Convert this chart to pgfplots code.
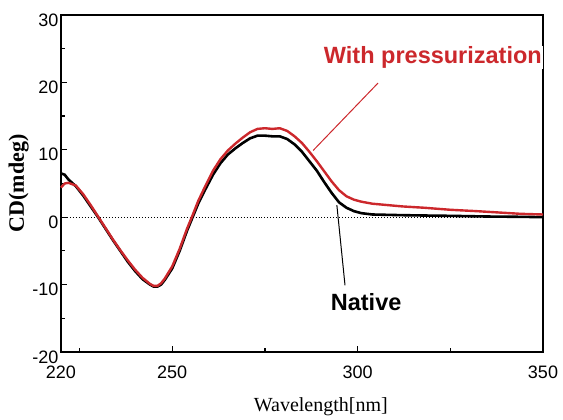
\documentclass[border=0pt]{standalone}
\usepackage{fontspec}
\setmainfont{Liberation Sans}
\newfontfamily\serif{Liberation Serif}
\usepackage{pgfplots}
\pgfplotsset{compat=1.18}
\definecolor{cdred}{RGB}{204,40,44}

\pgfplotstableread{
x y
220 6.5
221 6.3
222 5.6
224 4.6
226 3.2
228 1.6
230 0.0
232 -1.7
234 -3.4
236 -5.0
238 -6.6
240 -8.0
242 -9.2
244 -10.0
245 -10.3
246 -10.3
247 -10.0
248 -9.3
250 -7.6
252 -5.0
254 -2.0
255.5 0.0
257 2.0
259 4.2
261 6.3
263 8.0
265 9.3
267 10.2
269 11.0
271 11.7
273 12.1
275 12.1
277 12.0
279 12.0
281 11.6
283 10.8
285 9.7
287 8.3
289 6.9
291 5.2
293 3.6
295 2.2
297 1.4
299 0.9
301 0.6
304 0.4
308 0.35
312 0.3
318 0.25
325 0.2
335 0.1
345 0.05
350 0.0
}\native

\pgfplotstableread{
x y
220 4.4
221 5.0
222 5.1
224 4.7
226 3.4
228 1.8
230 0.1
232 -1.6
234 -3.3
236 -4.9
238 -6.4
240 -7.8
242 -9.0
244 -9.9
245 -10.2
246 -10.2
247 -9.8
248 -9.1
250 -7.3
252 -4.7
254 -1.7
255.5 0.3
257 2.4
259 4.7
261 6.9
263 8.6
265 9.9
267 10.9
269 11.8
271 12.6
273 13.1
275 13.2
277 13.1
279 13.2
281 12.8
283 12.0
285 11.0
287 9.7
289 8.3
291 6.8
293 5.3
295 4.0
297 3.1
299 2.6
301 2.3
304 2.0
308 1.8
312 1.6
318 1.4
325 1.1
332 0.9
338 0.7
344 0.5
350 0.4
}\pressurized

\begin{document}
\begin{tikzpicture}
\begin{axis}[
  width=482bp, height=337bp, scale only axis,
  xmin=220, xmax=350, ymin=-20, ymax=30,
  axis line style={line width=1.4bp},
  xtick={220,250,300,350}, minor xtick={225,275,325},
  ytick={-20,-10,0,10,20,30}, minor ytick={-15,-5,5,15,25},
  xticklabels={220,250,300,350},
  yticklabels={-20,-10,0,10,20,30},
  tick style={black, line width=1.2bp},
  major tick length=6bp, minor tick length=4bp,
  tick align=inside,
  xtick pos=bottom, ytick pos=left,
  ticklabel style={font=\fontsize{18bp}{20bp}\selectfont},
  xticklabel style={yshift=-10bp},
  yticklabel style={yshift=-5bp, xshift=1bp},
  xlabel={\serif Wavelength[nm]},
  ylabel={\serif\bfseries CD(mdeg)},
  xlabel style={font=\fontsize{20bp}{22bp}\selectfont, at={(rel axis cs:0.539,0)}, anchor=north, yshift=-42bp},
  ylabel style={font=\fontsize{22bp}{24bp}\selectfont, yshift=-3bp},
  clip=false,
]
\addplot[black, dotted, line width=1bp] coordinates {(220,0) (350,0)};
\addplot[black, line width=2.6bp] table {\native};
\addplot[cdred, line width=2.4bp] table {\pressurized};
\draw[cdred, line width=1bp] (axis cs:305.5,19.9) -- (axis cs:288,9.9);
\draw[black, line width=1bp] (axis cs:294.4,1.8) -- (axis cs:296.6,-10.1);
\node[fill=white, inner sep=1bp, text=cdred, font=\fontsize{23.5bp}{25bp}\selectfont\bfseries] at (axis cs:320.3,23.7) {With pressurization};
\node[font=\fontsize{23.5bp}{25bp}\selectfont\bfseries] at (axis cs:302.3,-12.6) {Native};
\end{axis}
\path[use as bounding box] ([shift={(-61bp,-63bp)}]current axis.south west) rectangle ([shift={(20bp,15bp)}]current axis.north east);
\end{tikzpicture}
\end{document}
